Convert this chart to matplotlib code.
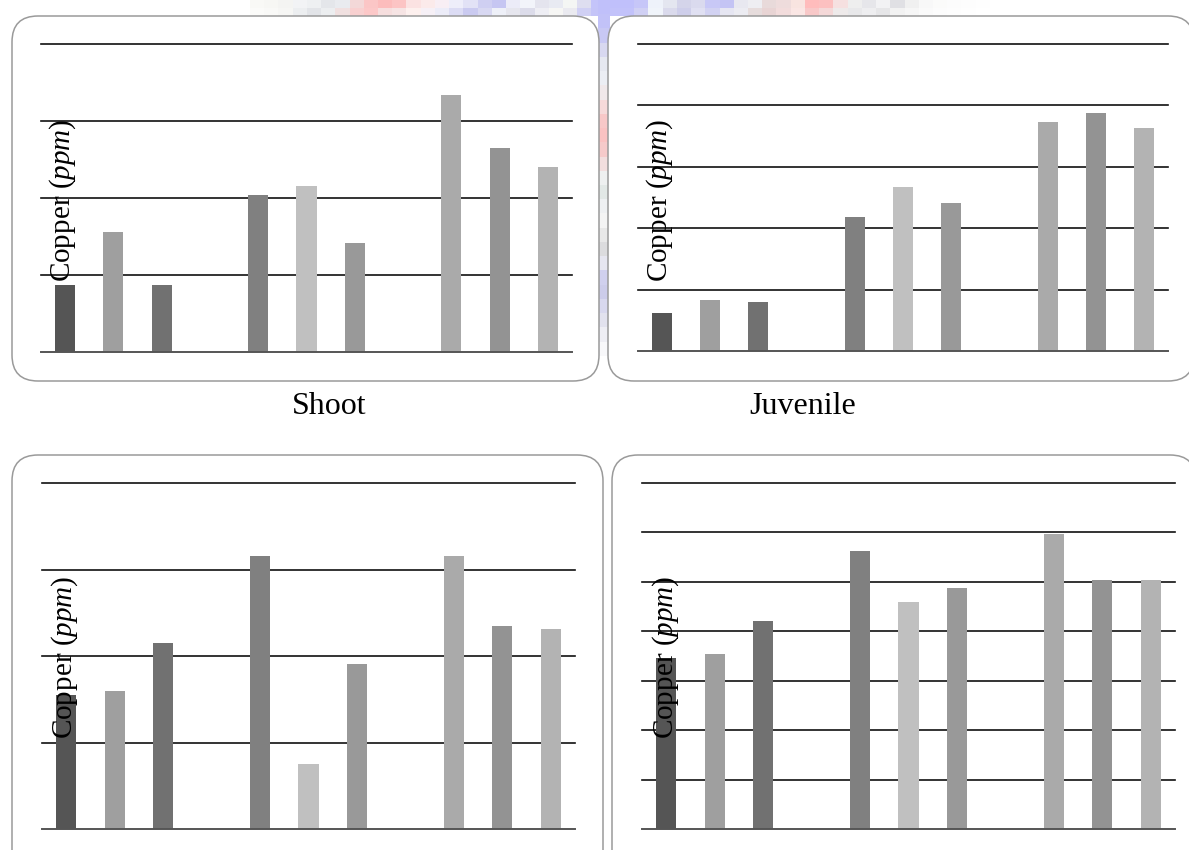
import numpy as np
import matplotlib
matplotlib.use("Agg")
import matplotlib.pyplot as plt
from matplotlib.patches import FancyBboxPatch
from matplotlib.colors import to_rgb

plt.rcParams["font.family"] = ["Liberation Serif", "DejaVu Serif"]
plt.rcParams["mathtext.fontset"] = "custom"
plt.rcParams["mathtext.rm"] = "Liberation Serif"
plt.rcParams["mathtext.it"] = "Liberation Serif:italic"

# ---- data: copper content, in grid units, three groups of three bars per panel ----
bar_positions = [0, 1, 2, 4, 5, 6, 8, 9, 10]
bar_colors = ["#555555", "#9f9f9f", "#717171",
              "#808080", "#c0c0c0", "#999999",
              "#aaaaaa", "#939393", "#b3b3b3"]

shoot_values = [0.87, 1.56, 0.87, 2.04, 2.16, 1.42, 3.34, 2.65, 2.40]
juvenile_values = [0.62, 0.83, 0.79, 2.18, 2.67, 2.41, 3.73, 3.87, 3.63]
panel_c_values = [1.55, 1.60, 2.15, 3.16, 0.75, 1.91, 3.16, 2.35, 2.31]
panel_d_values = [3.46, 3.55, 4.20, 5.63, 4.60, 4.88, 5.97, 5.03, 5.03]

shoot_ymax = 4
juvenile_ymax = 5
panel_c_ymax = 4
panel_d_ymax = 7

panel_titles = ["Shoot", "Juvenile"]
y_label = r"Copper ($\mathit{ppm}$)"

W, H = 1189, 850
fig = plt.figure(figsize=(W / 100, H / 100), dpi=100)
fig.patch.set_facecolor("white")

# background layer in pixel coordinates (origin top-left)
bg = fig.add_axes([0, 0, 1, 1])
bg.set_xlim(0, W)
bg.set_ylim(H, 0)
bg.axis("off")

# faint pixelated banner behind the panels
band_top = ["#f9f9f6", "#f7f7f4", "#f4f4f2", "#f2f3f5", "#eef0f2", "#e4e6ea", "#e9ebef",
            "#f3d8d8", "#fbc6c6", "#fcbcbc", "#fcc4c4", "#fbe2e2", "#fbeaea", "#f8eef4",
            "#eeeefa", "#e2e2f6", "#cfcff2", "#c6c6f2", "#ececf8", "#f2f4fa", "#e4e4ee",
            "#e8eaf2", "#f4f6f4", "#dedef0", "#c4c4fa", "#c0c0fb",
            "#c0c0fb", "#c6c6f8", "#eef2fa", "#e4e6f0", "#d4d4ea", "#dadaee", "#c8c8f6",
            "#c4c4f4", "#e8e8f0", "#eeeef2", "#e8dada", "#eedcdc", "#f8e4e0", "#ffbcbc",
            "#fcc0c0", "#f6e0e0", "#eeeeee", "#e6e6ea", "#f2f2f4", "#e0e0e4", "#f0f0f0",
            "#f8f8f8", "#fbfbfa", "#fcfcfc", "#fdfdfd", "#fefefe"]
band_bottom = ["#fbfbf9", "#f9f9f7", "#f6f6f4", "#eceef0", "#e2e4e8", "#eceef0", "#f0e0e0",
               "#f8d0d0", "#fcc8c8", "#f6dede", "#f6e4e4", "#fdf0ee", "#f6f0f6", "#ececf8",
               "#dcdcf4", "#cacaf0", "#d8d8f2", "#eef0f8", "#e6e6ee", "#dcdcea", "#eeeef4",
               "#f6f6f4", "#eaeaf0", "#d0d0f4", "#c4c4f8", "#c2c2fa",
               "#c2c2fa", "#d0d0f4", "#f0f4fa", "#dadaec", "#ceceea", "#e0e0f2", "#d2d2f2",
               "#e6e6f2", "#ececf2", "#e6dcdc", "#e8d4d4", "#f2dcdc", "#fae6e4", "#f8c8c8",
               "#f4d8d8", "#eeeaea", "#e8e8ea", "#eeeef0", "#e6e6e8", "#f2f2f2", "#f6f6f6",
               "#fafafa", "#fcfcfc", "#fdfdfd", "#fefefe", "#ffffff"]
band = np.array([[to_rgb(c) for c in band_top], [to_rgb(c) for c in band_bottom]])
bg.imshow(band, extent=(250, 990, 16, 0), interpolation="nearest", aspect="auto", zorder=0)

gap_colors = ["#c0c0fa", "#c2c2f8", "#c8c8f4", "#d8d8f0", "#e6e8f0", "#eceef4", "#f0e8ea",
              "#f6dada", "#f8c8c8", "#fac2c2", "#f6caca", "#f2dede", "#eef0f0", "#e2e8e6",
              "#eef0f2", "#f4f4f4", "#e8e8e8", "#dcdcde", "#e6e6f0", "#d0d0ee", "#ccccea",
              "#d8d8ee", "#e2e2ee", "#eeeef4", "#f8f8fa", "#ffffff"]
gap = np.array([[to_rgb(c)] for c in gap_colors])
bg.imshow(gap, extent=(598, 610, 370, 0), interpolation="nearest", aspect="auto", zorder=0)
bg.set_xlim(0, W)
bg.set_ylim(H, 0)

# rounded frames around each panel
frames = [(12, 16, 599, 381), (608, 16, 1194, 381),
          (12, 455, 603, 880), (612, 455, 1196, 880)]
for x0, y0, x1, y1 in frames:
    bg.add_patch(FancyBboxPatch((x0, y0), x1 - x0, y1 - y0,
                                boxstyle="round,pad=0,rounding_size=26",
                                facecolor="white", edgecolor="#9a9a9a",
                                linewidth=1.1, zorder=2))

# panel titles
bg.text(329, 406, panel_titles[0], fontsize=23, ha="center", va="center", zorder=3)
bg.text(803, 406, panel_titles[1], fontsize=23, ha="center", va="center", zorder=3)


def px_axes(x0, y0, x1, y1):
    return fig.add_axes([x0 / W, 1 - y1 / H, (x1 - x0) / W, (y1 - y0) / H])


def draw_panel(rect, values, ymax, label_xy):
    ax = px_axes(*rect)
    ax.set_facecolor("none")
    ax.bar(bar_positions, values, width=0.415, color=bar_colors, zorder=2)
    for k in range(1, ymax + 1):
        ax.axhline(k, color="#111111", linewidth=1.2, clip_on=False, zorder=1)
    ax.axhline(0, color="#555555", linewidth=1.4, clip_on=False, zorder=3)
    ax.set_xlim(-0.5, 10.5)
    ax.set_ylim(0, ymax)
    ax.axis("off")
    fig.text(label_xy[0] / W, 1 - label_xy[1] / H, y_label, rotation=90,
             fontsize=21, ha="center", va="center", zorder=5)
    return ax


draw_panel((41, 44, 572, 352), shoot_values, shoot_ymax, (63, 200))
draw_panel((638, 44, 1168, 351), juvenile_values, juvenile_ymax, (660, 200))
draw_panel((42, 483, 575, 829), panel_c_values, panel_c_ymax, (65, 657))
draw_panel((642, 483, 1175, 829), panel_d_values, panel_d_ymax, (666, 657))

fig.savefig("out.png", dpi=100)
